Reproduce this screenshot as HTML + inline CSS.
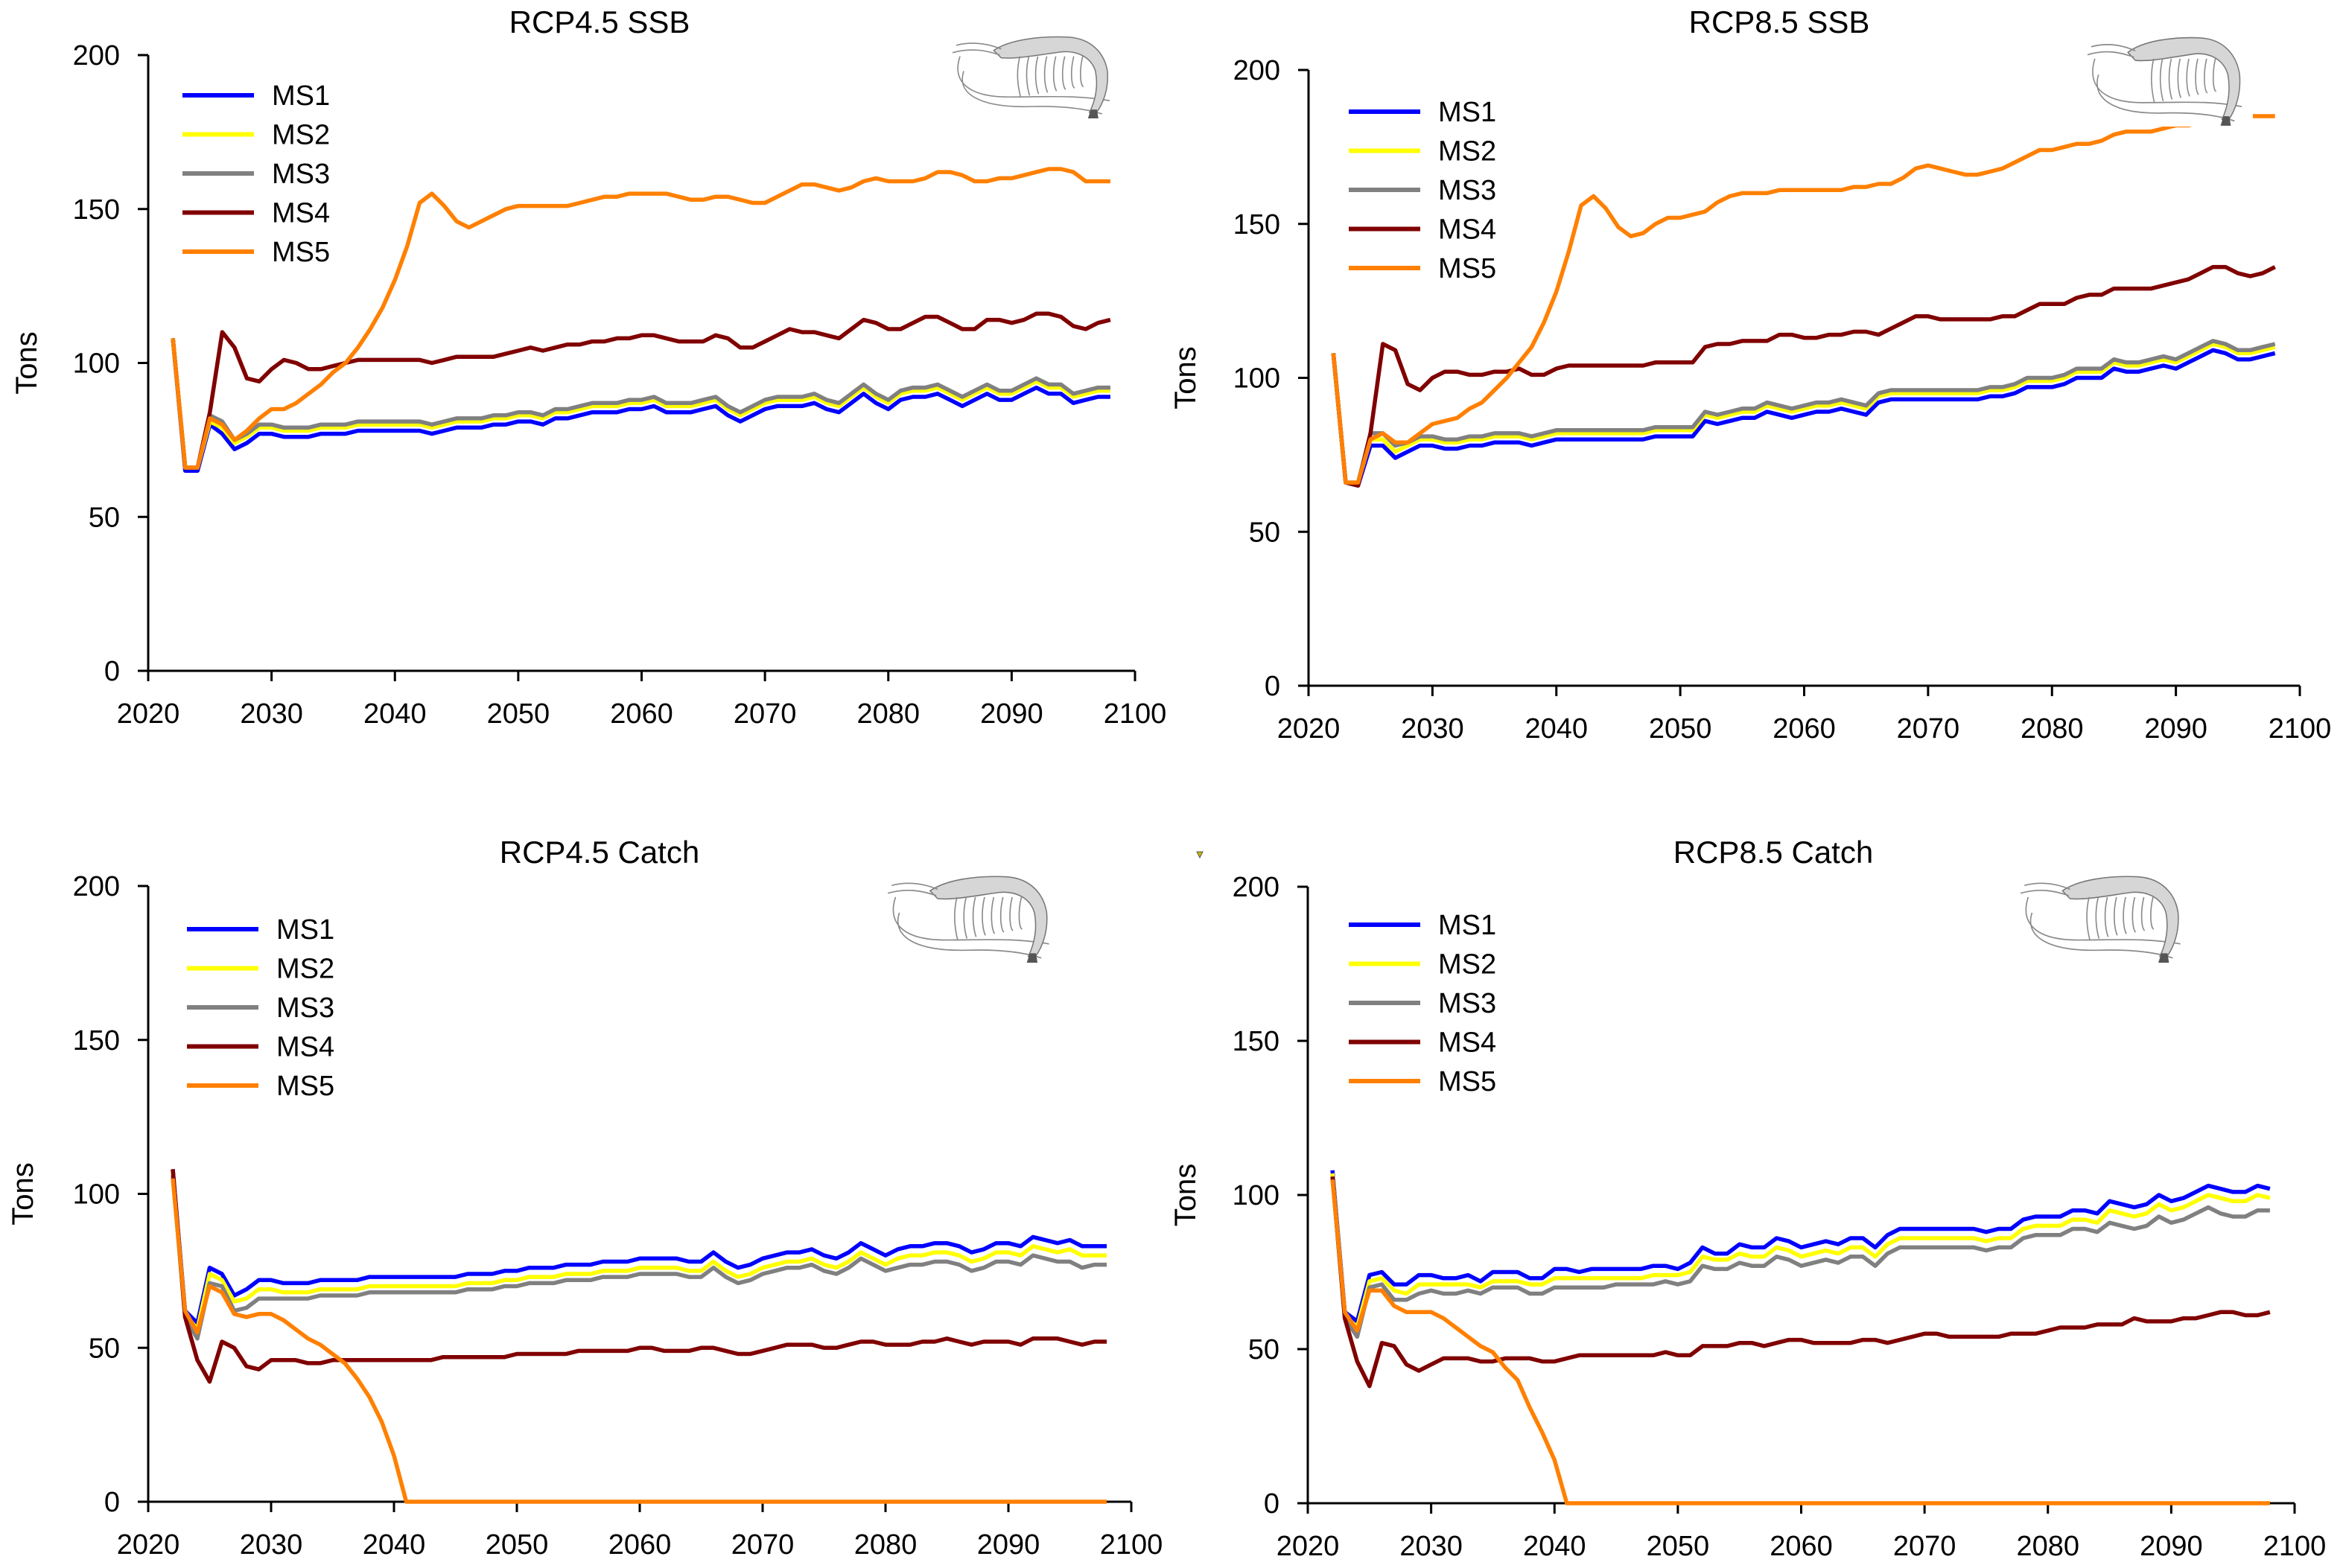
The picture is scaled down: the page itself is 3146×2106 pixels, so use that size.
<!DOCTYPE html>
<html><head><meta charset="utf-8">
<style>
html,body{margin:0;padding:0;background:#fff;}
svg{display:block;}
text{font-family:"Liberation Sans Narrow","Liberation Sans",sans-serif;fill:#000;}
</style></head>
<body>
<svg id="chart" xmlns="http://www.w3.org/2000/svg" width="3146" height="2106" viewBox="0 0 3146 2106">
<rect width="3146" height="2106" fill="#fff"/>
<path d="M1607,1144 l8,0 l-4,8 z" fill="#c8b400" stroke="#555" stroke-width="1"/>
</svg>
<script>
const years = [];
for (let y = 2022; y <= 2098; y++) years.push(y);
const seriesNames = ["MS1","MS2","MS3","MS4","MS5"];
const yTicks = [0,50,100,150,200];
const xTicks = [2020,2030,2040,2050,2060,2070,2080,2090,2100];

const ssb45_ms1 = [108,65,65,80,77,72,74,77,77,76, 76,76,77,77,77,78,78,78,78,78, 78,77,78,79,79,79,80,80,81,81, 80,82,82,83,84,84,84,85,85,86, 84,84,84,85,86,83,81,83,85,86, 86,86,87,85,84,87,90,87,85,88, 89,89,90,88,86,88,90,88,88,90, 92,90,90,87,88,89,89];
const ssb45_ms2 = [108,66,66,81,79,74,76,79,79,78, 78,78,79,79,79,80,80,80,80,80, 80,79,80,81,81,81,82,82,83,83, 82,84,84,85,86,86,86,87,87,88, 86,86,86,87,88,85,83,85,87,88, 88,88,89,87,86,89,92,89,87,90, 91,91,92,90,88,90,92,90,90,92, 94,92,92,89,90,91,91];
const ssb45_ms3 = [108,66,66,83,81,75,77,80,80,79, 79,79,80,80,80,81,81,81,81,81, 81,80,81,82,82,82,83,83,84,84, 83,85,85,86,87,87,87,88,88,89, 87,87,87,88,89,86,84,86,88,89, 89,89,90,88,87,90,93,90,88,91, 92,92,93,91,89,91,93,91,91,93, 95,93,93,90,91,92,92];
const ssb45_ms4 = [108,66,66,84,110,105,95,94,98,101, 100,98,98,99,100,101,101,101,101,101, 101,100,101,102,102,102,102,103,104,105, 104,105,106,106,107,107,108,108,109,109, 108,107,107,107,109,108,105,105,107,109, 111,110,110,109,108,111,114,113,111,111, 113,115,115,113,111,111,114,114,113,114, 116,116,115,112,111,113,114];
const ssb45_ms5 = [108,66,66,82,80,75,78,82,85,85, 87,90,93,97,100,105,111,118,127,138, 152,155,151,146,144,146,148,150,151,151, 151,151,151,152,153,154,154,155,155,155, 155,154,153,153,154,154,153,152,152,154, 156,158,158,157,156,157,159,160,159,159, 159,160,162,162,161,159,159,160,160,161, 162,163,163,162,159,159,159];

const ssb85_ms1 = [108,66,65,78,78,74,76,78,78,77, 77,78,78,79,79,79,78,79,80,80, 80,80,80,80,80,80,81,81,81,81, 86,85,86,87,87,89,88,87,88,89, 89,90,89,88,92,93,93,93,93,93, 93,93,93,94,94,95,97,97,97,98, 100,100,100,103,102,102,103,104,103,105, 107,109,108,106,106,107,108];
const ssb85_ms2 = [108,66,66,80,80,76,78,80,80,79, 79,80,80,81,81,81,80,81,82,82, 82,82,82,82,82,82,83,83,83,83, 88,87,88,89,89,91,90,89,90,91, 91,92,91,90,94,95,95,95,95,95, 95,95,95,96,96,97,99,99,99,100, 102,102,102,105,104,104,105,106,105,107, 109,111,110,108,108,109,110];
const ssb85_ms3 = [108,66,66,82,82,78,79,81,81,80, 80,81,81,82,82,82,81,82,83,83, 83,83,83,83,83,83,84,84,84,84, 89,88,89,90,90,92,91,90,91,92, 92,93,92,91,95,96,96,96,96,96, 96,96,96,97,97,98,100,100,100,101, 103,103,103,106,105,105,106,107,106,108, 110,112,111,109,109,110,111];
const ssb85_ms4 = [108,66,65,82,111,109,98,96,100,102, 102,101,101,102,102,103,101,101,103,104, 104,104,104,104,104,104,105,105,105,105, 110,111,111,112,112,112,114,114,113,113, 114,114,115,115,114,116,118,120,120,119, 119,119,119,119,120,120,122,124,124,124, 126,127,127,129,129,129,129,130,131,132, 134,136,136,134,133,134,136];
const ssb85_ms5 = [108,66,66,80,82,79,79,82,85,86, 87,90,92,96,100,105,110,118,128,141, 156,159,155,149,146,147,150,152,152,153, 154,157,159,160,160,160,161,161,161,161, 161,161,162,162,163,163,165,168,169,168, 167,166,166,167,168,170,172,174,174,175, 176,176,177,179,180,180,180,181,182,182, 183,184,184,184,185,185,185];

const catch45_ms1 = [108,62,58,76,74,67,69,72,72,71, 71,71,72,72,72,72,73,73,73,73, 73,73,73,73,74,74,74,75,75,76, 76,76,77,77,77,78,78,78,79,79, 79,79,78,78,81,78,76,77,79,80, 81,81,82,80,79,81,84,82,80,82, 83,83,84,84,83,81,82,84,84,83, 86,85,84,85,83,83,83];
const catch45_ms2 = [107,61,56,74,72,65,66,69,69,68, 68,68,69,69,69,69,70,70,70,70, 70,70,70,70,71,71,71,72,72,73, 73,73,74,74,74,75,75,75,76,76, 76,76,75,75,78,75,73,74,76,77, 78,78,79,77,76,78,81,79,77,79, 80,80,81,81,80,78,79,81,81,80, 83,82,81,82,80,80,80];
const catch45_ms3 = [106,60,53,71,70,62,63,66,66,66, 66,66,67,67,67,67,68,68,68,68, 68,68,68,68,69,69,69,70,70,71, 71,71,72,72,72,73,73,73,74,74, 74,74,73,73,76,73,71,72,74,75, 76,76,77,75,74,76,79,77,75,76, 77,77,78,78,77,75,76,78,78,77, 80,79,78,78,76,77,77];
const catch45_ms4 = [108,60,46,39,52,50,44,43,46,46, 46,45,45,46,46,46,46,46,46,46, 46,46,47,47,47,47,47,47,48,48, 48,48,48,49,49,49,49,49,50,50, 49,49,49,50,50,49,48,48,49,50, 51,51,51,50,50,51,52,52,51,51, 51,52,52,53,52,51,52,52,52,51, 53,53,53,52,51,52,52];
const catch45_ms5 = [105,62,55,70,68,61,60,61,61,59, 56,53,51,48,45,40,34,26,15,0, 0,0,0,0,0,0,0,0,0,0, 0,0,0,0,0,0,0,0,0,0, 0,0,0,0,0,0,0,0,0,0, 0,0,0,0,0,0,0,0,0,0, 0,0,0,0,0,0,0,0,0,0, 0,0,0,0,0,0,0];

const catch85_ms1 = [108,62,59,74,75,71,71,74,74,73, 73,74,72,75,75,75,73,73,76,76, 75,76,76,76,76,76,77,77,76,78, 83,81,81,84,83,83,86,85,83,84, 85,84,86,86,83,87,89,89,89,89, 89,89,89,88,89,89,92,93,93,93, 95,95,94,98,97,96,97,100,98,99, 101,103,102,101,101,103,102];
const catch85_ms2 = [107,61,57,72,73,69,68,71,71,71, 71,71,70,72,72,72,71,71,73,73, 73,73,73,73,73,73,74,74,74,75, 80,79,79,81,80,80,83,82,80,81, 82,81,83,83,80,84,86,86,86,86, 86,86,86,85,86,86,89,90,90,90, 92,92,91,95,94,93,94,97,95,96, 98,100,99,98,98,100,99];
const catch85_ms3 = [106,60,54,70,71,66,66,68,69,68, 68,69,68,70,70,70,68,68,70,70, 70,70,70,71,71,71,71,72,71,72, 77,76,76,78,77,77,80,79,77,78, 79,78,80,80,77,81,83,83,83,83, 83,83,83,82,83,83,86,87,87,87, 89,89,88,91,90,89,90,93,91,92, 94,96,94,93,93,95,95];
const catch85_ms4 = [106,60,46,38,52,51,45,43,45,47, 47,47,46,46,47,47,47,46,46,47, 48,48,48,48,48,48,48,49,48,48, 51,51,51,52,52,51,52,53,53,52, 52,52,52,53,53,52,53,54,55,55, 54,54,54,54,54,55,55,55,56,57, 57,57,58,58,58,60,59,59,59,60, 60,61,62,62,61,61,62];
const catch85_ms5 = [105,62,56,69,69,64,62,62,62,60, 57,54,51,49,44,40,31,23,14,0, 0,0,0,0,0,0,0,0,0,0, 0,0,0,0,0,0,0,0,0,0, 0,0,0,0,0,0,0,0,0,0, 0,0,0,0,0,0,0,0,0,0, 0,0,0,0,0,0,0,0,0,0, 0,0,0,0,0,0,0];

const colors = ["#0000ff","#ffff00","#808080","#800000","#ff8000"];
const NS = "http://www.w3.org/2000/svg";
const svg = document.getElementById("chart");

function mk(tag, attrs, parent) {
  const e = document.createElementNS(NS, tag);
  for (const k in attrs) e.setAttribute(k, attrs[k]);
  (parent || svg).appendChild(e);
  return e;
}

const panels = [
  {id:"rcp45-ssb", title:"RCP4.5 SSB", tx:805, ty:44, x0:199, x1:1524, yT:74, yB:901, series:[ssb45_ms1,ssb45_ms2,ssb45_ms3,ssb45_ms4,ssb45_ms5], leg:{x:245, y:128}, shrimp:{x:1274,y:36,w:231,h:124}, tonsX:35},
  {id:"rcp85-ssb", title:"RCP8.5 SSB", tx:2389, ty:44, x0:1757, x1:3088, yT:94, yB:921, series:[ssb85_ms1,ssb85_ms2,ssb85_ms3,ssb85_ms4,ssb85_ms5], leg:{x:1811, y:150}, shrimp:{x:2798,y:36,w:227,h:134}, tonsX:1591},
  {id:"rcp45-catch", title:"RCP4.5 Catch", tx:805, ty:1159, x0:199, x1:1519, yT:1190, yB:2017, series:[catch45_ms1,catch45_ms2,catch45_ms3,catch45_ms4,catch45_ms5], leg:{x:251, y:1248}, shrimp:{x:1187,y:1163,w:237,h:131}, tonsX:30},
  {id:"rcp85-catch", title:"RCP8.5 Catch", tx:2381, ty:1159, x0:1756, x1:3081, yT:1191, yB:2019, series:[catch85_ms1,catch85_ms2,catch85_ms3,catch85_ms4,catch85_ms5], leg:{x:1811, y:1242}, shrimp:{x:2708,y:1163,w:235,h:131}, tonsX:1591}
];

function drawShrimp(g, s) {
  const sx = s.w/230, sy = s.h/125;
  const sg = mk("g", {transform:`translate(${s.x},${s.y}) scale(${sx},${sy})`}, g);
  
  
  mk("rect",{x:0,y:0,width:230,height:125,fill:"#fff"},sg);
  const st = {fill:"none",stroke:"#8a8a8a","stroke-width":1.6};
  mk("path",Object.assign({d:"M20,60 C10,90 40,110 110,108 C150,107 180,110 205,118"},st),sg);
  mk("path",Object.assign({d:"M15,40 C5,70 20,95 80,95 C130,95 170,92 215,100"},st),sg);
  mk("path",{d:"M60,32 C80,18 120,12 160,14 C190,16 208,35 212,60 C214,85 206,105 196,118 L188,116 C196,100 200,80 196,60 C190,40 170,32 150,34 C120,38 90,44 70,42 Z",fill:"#d6d6d6",stroke:"#777","stroke-width":1.5},sg);
  mk("path",Object.assign({d:"M10,25 C30,20 50,22 70,30 M5,35 C30,28 50,32 68,38"},st),sg);
  for (let i=0;i<8;i++){
    mk("path",Object.assign({d:`M${95+i*12},40 C${90+i*12},60 ${92+i*12},80 ${96+i*12},${95-i*2}`},st),sg);
  }
  mk("path",{d:"M190,112 L186,124 L200,124 L198,112 Z",fill:"#555"},sg);
}

panels.forEach(p => {
  const g = mk("g", {});
  
  
  const xs = v => p.x0 + (v - 2020) / 80 * (p.x1 - p.x0);
  const ys = v => p.yB - v / 200 * (p.yB - p.yT);

  const title = mk("text", {x:p.tx, y:p.ty, "font-size":42, "text-anchor":"middle"}, g);
  title.textContent = p.title;
  
  

  const tons = mk("text", {x:p.tonsX, y:(p.yT+p.yB)/2, "font-size":40, "text-anchor":"middle", transform:`rotate(-90 ${p.tonsX} ${(p.yT+p.yB)/2})`, style:'font-family:"Liberation Sans",sans-serif', dy:14}, g);
  tons.textContent = "Tons";
  
  

  const axes = mk("g", {stroke:"#000","stroke-width":3}, g);
  
  
  mk("line",{x1:p.x0,y1:p.yT,x2:p.x0,y2:p.yB},axes);
  mk("line",{x1:p.x0,y1:p.yB,x2:p.x1,y2:p.yB},axes);
  yTicks.forEach(t => {
    mk("line",{x1:p.x0-14,y1:ys(t),x2:p.x0,y2:ys(t)},axes);
    const tl = mk("text",{x:p.x0-38,y:ys(t)+13,"font-size":38,"text-anchor":"end",stroke:"none"},g);
    tl.textContent = t;
    
    
  });
  xTicks.forEach(t => {
    mk("line",{x1:xs(t),y1:p.yB,x2:xs(t),y2:p.yB+14},axes);
    const tl = mk("text",{x:xs(t),y:p.yB+70,"font-size":38,"text-anchor":"middle"},g);
    tl.textContent = t;
    
    
  });

  p.series.forEach((arr, si) => {
    const d = arr.map((v,i) => (i?"L":"M") + xs(years[i]).toFixed(1) + "," + ys(v).toFixed(1)).join(" ");
    const path = mk("path",{d:d,fill:"none",stroke:colors[si],"stroke-width":5.5,"stroke-linejoin":"round"},g);
    
    
  });

  seriesNames.forEach((n, si) => {
    const ly = p.leg.y + si * 52.5;
    const le = mk("g", {}, g);
    
    
    mk("line",{x1:p.leg.x,y1:ly,x2:p.leg.x+96,y2:ly,stroke:colors[si],"stroke-width":6},le);
    const t = mk("text",{x:p.leg.x+120,y:ly+13,"font-size":38},le);
    t.textContent = n;
  });

  drawShrimp(g, p.shrimp);
});
</script>
</body></html>
